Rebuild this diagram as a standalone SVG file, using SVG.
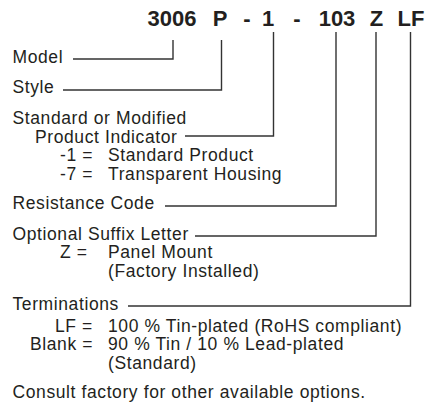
<svg xmlns="http://www.w3.org/2000/svg" width="429" height="407" viewBox="0 0 429 407">
<style>
.t{font-family:"Liberation Sans",Arial,Helvetica,sans-serif;font-size:17.5px;letter-spacing:0.6px;fill:#231f20}
.h{font-family:"Liberation Sans",Arial,Helvetica,sans-serif;font-size:22px;font-weight:bold;fill:#231f20;text-anchor:middle}
.c{fill:none;stroke:#333;stroke-width:1.4}
</style>
<rect width="429" height="407" fill="#fff"/>
<g id="header">
<text class="h" x="172" y="26">3006</text>
<text class="h" x="220" y="26">P</text>
<text class="h" x="247" y="26">-</text>
<text class="h" x="268" y="26">1</text>
<text class="h" x="297" y="26">-</text>
<text class="h" x="337" y="26">103</text>
<text class="h" x="376.5" y="26">Z</text>
<text class="h" x="411" y="26">LF</text>
</g>
<g id="connectors">
<path class="c" d="M73 59H173V40"/>
<path class="c" d="M63 90H221.5V40"/>
<path class="c" d="M185 136H273.5V32"/>
<path class="c" d="M165 206H336V32"/>
<path class="c" d="M195 236H376V32"/>
<path class="c" d="M128 306H410.5V32"/>
</g>
<g id="model"><text class="t" x="12.5" y="63">Model</text></g>
<g id="style"><text class="t" x="12.5" y="93">Style</text></g>
<g id="indicator">
<text class="t" x="12.5" y="123.5">Standard or Modified</text>
<text class="t" x="35" y="142.5">Product Indicator</text>
<text class="t" x="60" y="161">-1 =</text><text class="t" x="108" y="161">Standard Product</text>
<text class="t" x="60" y="179.5">-7 =</text><text class="t" x="108" y="179.5">Transparent Housing</text>
</g>
<g id="resistance"><text class="t" x="12.5" y="208.5">Resistance Code</text></g>
<g id="suffix">
<text class="t" x="12.5" y="239.5">Optional Suffix Letter</text>
<text class="t" x="60" y="258">Z =</text><text class="t" x="108" y="258">Panel Mount</text>
<text class="t" x="108" y="277">(Factory Installed)</text>
</g>
<g id="terminations">
<text class="t" x="12.5" y="310">Terminations</text>
<text class="t" x="55" y="331.5">LF =</text><text class="t" x="108" y="331.5">100 % Tin-plated (RoHS compliant)</text>
<text class="t" x="30" y="350">Blank =</text><text class="t" x="108" y="350">90 % Tin / 10 % Lead-plated</text>
<text class="t" x="108" y="368.5">(Standard)</text>
</g>
<g id="note"><text class="t" x="12.5" y="398">Consult factory for other available options.</text></g>
</svg>
